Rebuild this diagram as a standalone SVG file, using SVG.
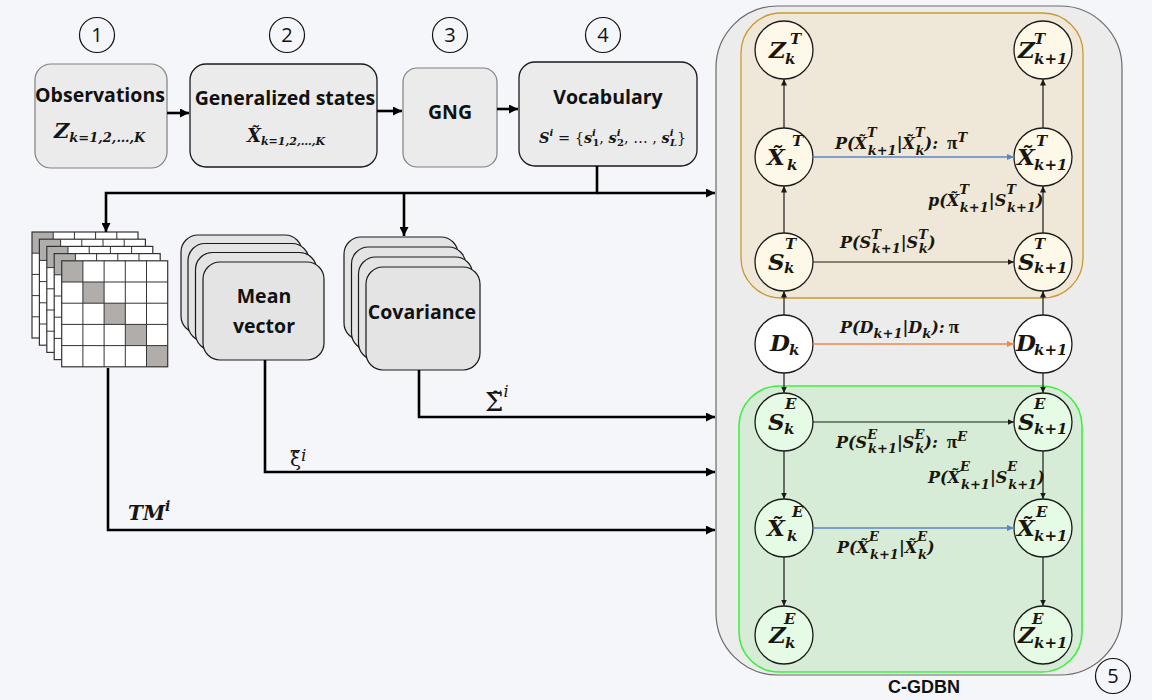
<svg xmlns="http://www.w3.org/2000/svg" xmlns:xlink="http://www.w3.org/1999/xlink" width="1152" height="700" viewBox="0 0 1152 700">
  <style>
    .lbl { font-family: "Open Sans", "Liberation Sans", sans-serif; font-weight: 700; font-size: 19.5px; fill: #111; text-anchor: middle; }
    .num { font-family: "Open Sans", "Liberation Sans", sans-serif; font-size: 20px; fill: #111; text-anchor: middle; }
    .box { fill: #ebebeb; stroke: #1a1a1a; stroke-width: 1.3; }
    .boxl { fill: #ebebeb; stroke: #808080; stroke-width: 1.2; }
    .card { fill: #e4e4e4; stroke: #1a1a1a; stroke-width: 1.2; }
    .ring { fill: none; stroke: #111; stroke-width: 1.2; }
    .math { font-family: "DejaVu Serif", "Liberation Serif", serif; font-weight: 700; font-style: italic; fill: #151515; }
    .up { font-style: normal; }
    .rg { font-weight: 400; font-style: normal; }
    .pi { font-family: "Liberation Serif", serif; font-style: normal; font-weight: 700; font-size: 19px; }
    .nv { font-family: "DejaVu Serif", "Liberation Serif", serif; font-weight: 700; font-style: italic; font-size: 23px; fill: #1a160e; }
    .nv tspan.s { font-size: 15px; }
    .el { font-family: "DejaVu Serif", "Liberation Serif", serif; font-weight: 700; font-style: italic; font-size: 16px; fill: #1a160e; }
    .el tspan.s { font-size: 13px; }
    .sym { font-family: "DejaVu Serif", "Liberation Serif", serif; fill: #151515; }
    .tan { fill: #fdf8e7; stroke: #1a1a1a; stroke-width: 1.3; }
    .wht { fill: #ffffff; stroke: #1a1a1a; stroke-width: 1.3; }
    .grn { fill: #e5fbe5; stroke: #1a1a1a; stroke-width: 1.3; }
    .thick { fill: none; stroke: #000; stroke-width: 2.6; }
    .thin { fill: none; stroke: #1a1a1a; stroke-width: 1.2; }
    .blue { fill: none; stroke: #5a86c6; stroke-width: 1.6; }
    .orng { fill: none; stroke: #f2874a; stroke-width: 1.6; }
  </style>
  <defs>
    <marker id="ah" markerUnits="userSpaceOnUse" markerWidth="10" markerHeight="9" refX="9" refY="4.5" orient="auto">
      <path d="M0,0 L9,4.5 L0,9 z" fill="#000"/>
    </marker>
    <marker id="as" markerUnits="userSpaceOnUse" markerWidth="7" markerHeight="7" refX="6.5" refY="3" orient="auto">
      <path d="M0,0 L6.5,3 L0,6 z" fill="#1a1a1a"/>
    </marker>
    <marker id="ab" markerUnits="userSpaceOnUse" markerWidth="8" markerHeight="7" refX="7.5" refY="3.3" orient="auto">
      <path d="M0,0 L7.5,3.3 L0,6.6 z" fill="#5a86c6"/>
    </marker>
    <marker id="ao" markerUnits="userSpaceOnUse" markerWidth="8" markerHeight="7" refX="7.5" refY="3.3" orient="auto">
      <path d="M0,0 L7.5,3.3 L0,6.6 z" fill="#f2874a"/>
    </marker>
    <!-- one 5x5 transition matrix with shaded diagonal -->
    <g id="mat">
      <rect x="0" y="0" width="106" height="106" fill="#fff"/>
      <rect x="0" y="0" width="21.2" height="21.2" fill="#b1adaa"/>
      <rect x="21.2" y="21.2" width="21.2" height="21.2" fill="#b1adaa"/>
      <rect x="42.4" y="42.4" width="21.2" height="21.2" fill="#b1adaa"/>
      <rect x="63.6" y="63.6" width="21.2" height="21.2" fill="#b1adaa"/>
      <rect x="84.8" y="84.8" width="21.2" height="21.2" fill="#b1adaa"/>
      <path d="M0,21.2H106M0,42.4H106M0,63.6H106M0,84.8H106M21.2,0V106M42.4,0V106M63.6,0V106M84.8,0V106" stroke="#333" stroke-width="1"/>
      <rect x="0" y="0" width="106" height="106" fill="none" stroke="#333" stroke-width="1.2"/>
    </g>
  </defs>

  <rect width="1152" height="700" fill="#f5f6fa"/>

  <!-- step numbers -->
  <g id="steps">
    <circle class="ring" cx="97" cy="35" r="17.5"/><text class="num" x="97" y="42">1</text>
    <circle class="ring" cx="287" cy="35" r="17.5"/><text class="num" x="287" y="42">2</text>
    <circle class="ring" cx="450" cy="35" r="17.5"/><text class="num" x="450" y="42">3</text>
    <circle class="ring" cx="603" cy="35" r="17.5"/><text class="num" x="603" y="42">4</text>
    <circle class="ring" cx="1113" cy="676" r="17.5"/><text class="num" x="1113" y="683">5</text>
  </g>

  <!-- C-GDBN panel -->
  <g id="cgdbn">
    <rect x="716" y="6" width="406" height="669" rx="62" fill="#ececec" stroke="#6a6a6a" stroke-width="1.2"/>
    <rect x="741" y="13" width="342" height="285" rx="40" fill="#efe8d8" stroke="#c99a2e" stroke-width="1.3"/>
    <rect x="739" y="386" width="343" height="286" rx="40" fill="#d6ecd6" stroke="#3ff03f" stroke-width="1.6"/>
    <text x="924" y="693" font-family="Liberation Sans, Arial, sans-serif" font-weight="700" font-size="18" fill="#111" text-anchor="middle">C-GDBN</text>
  </g>

  <!-- pipeline boxes -->
  <g id="observations">
    <rect class="boxl" x="35" y="64" width="132" height="104" rx="16"/>
    <text class="lbl" x="100" y="102">Observations</text>
    <text class="math" x="54" y="138" font-size="21">Z<tspan font-size="13" dy="4">k=1,2,…,K</tspan></text>
  </g>
  <g id="generalized-states">
    <rect class="box" x="190" y="64" width="187" height="103" rx="16"/>
    <text class="lbl" x="285" y="105">Generalized states</text>
    <text class="math" x="247" y="142" font-size="18">X&#x303;<tspan font-size="11" dy="3">k=1,2,…,K</tspan></text>
  </g>
  <g id="gng">
    <rect class="boxl" x="403" y="68" width="94" height="99" rx="14"/>
    <text class="lbl" x="450" y="119">GNG</text>
  </g>
  <g id="vocabulary">
    <rect class="box" x="519" y="62" width="178" height="104" rx="16"/>
    <text class="lbl" x="608" y="104">Vocabulary</text>
    <text class="math" x="539" y="143" font-size="14.5">S<tspan font-size="10" dy="-7">i</tspan><tspan class="rg" dy="7"> = {</tspan>s<tspan font-size="10" dy="-7">i</tspan><tspan font-size="10" dx="-3.5" dy="10" class="up">1</tspan><tspan class="rg" dy="-3">, </tspan>s<tspan font-size="10" dy="-7">i</tspan><tspan font-size="10" dx="-3.5" dy="10" class="up">2</tspan><tspan class="rg" dy="-3">, … , </tspan>s<tspan font-size="10" dy="-7">i</tspan><tspan font-size="10" dx="-3.5" dy="10">L</tspan><tspan class="rg" dy="-3">}</tspan></text>
  </g>

  <!-- per-word model statistics -->
  <g id="transition-matrices">
    <use xlink:href="#mat" x="32" y="232"/>
    <use xlink:href="#mat" x="39.4" y="239.2"/>
    <use xlink:href="#mat" x="46.8" y="246.4"/>
    <use xlink:href="#mat" x="54.2" y="253.6"/>
    <use xlink:href="#mat" x="61.7" y="260.8"/>
  </g>
  <g id="mean-vector">
    <rect class="card" x="181" y="235" width="121" height="98" rx="17"/>
    <rect class="card" x="188" y="243.5" width="121" height="98" rx="17"/>
    <rect class="card" x="195.5" y="252.5" width="121" height="98" rx="17"/>
    <rect class="card" x="203" y="262" width="121" height="98" rx="17"/>
    <text class="lbl" x="264" y="303">Mean</text>
    <text class="lbl" x="264" y="333">vector</text>
  </g>
  <g id="covariance">
    <rect class="card" x="344" y="237" width="114" height="103" rx="17"/>
    <rect class="card" x="351.5" y="247" width="114" height="103" rx="17"/>
    <rect class="card" x="358.5" y="257" width="114" height="103" rx="17"/>
    <rect class="card" x="366" y="267" width="114" height="103" rx="17"/>
    <text class="lbl" x="422" y="319">Covariance</text>
  </g>

  <!-- C-GDBN nodes: continuous (T) level -->
  <g id="node-ZT-k"><circle class="tan" cx="784" cy="50" r="29"/>
    <text class="nv" x="769" y="58">Z<tspan class="s" x="790" y="44">T</tspan><tspan class="s" x="785" y="64">k</tspan></text></g>
  <g id="node-ZT-k1"><circle class="tan" cx="1043" cy="50" r="29"/>
    <text class="nv" x="1018" y="58">Z<tspan class="s" x="1034" y="44">T</tspan><tspan class="s" x="1034" y="64">k+1</tspan></text></g>
  <g id="node-XT-k"><circle class="tan" cx="784" cy="157" r="29"/>
    <text class="nv" x="767" y="165">X&#x303;<tspan class="s" x="792" y="146">T</tspan><tspan class="s" x="787" y="170">k</tspan></text></g>
  <g id="node-XT-k1"><circle class="tan" cx="1043" cy="157" r="29"/>
    <text class="nv" x="1017" y="165">X&#x303;<tspan class="s" x="1036" y="146">T</tspan><tspan class="s" x="1034" y="170">k+1</tspan></text></g>
  <g id="node-ST-k"><circle class="tan" cx="784" cy="262" r="29"/>
    <text class="nv" x="768" y="270">S<tspan class="s" x="785" y="249">T</tspan><tspan class="s" x="784" y="273">k</tspan></text></g>
  <g id="node-ST-k1"><circle class="tan" cx="1043" cy="262" r="29"/>
    <text class="nv" x="1018" y="270">S<tspan class="s" x="1034" y="249">T</tspan><tspan class="s" x="1034" y="273">k+1</tspan></text></g>

  <!-- C-GDBN nodes: discrete super-states -->
  <g id="node-D-k"><circle class="wht" cx="784" cy="344" r="29"/>
    <text class="nv" x="770" y="351">D<tspan class="s" x="789" y="355">k</tspan></text></g>
  <g id="node-D-k1"><circle class="wht" cx="1043" cy="344" r="29"/>
    <text class="nv" x="1016" y="351">D<tspan class="s" x="1034" y="355">k+1</tspan></text></g>

  <!-- C-GDBN nodes: environment (E) level -->
  <g id="node-SE-k"><circle class="grn" cx="784" cy="422" r="29"/>
    <text class="nv" x="768" y="430" fill="#132813">S<tspan class="s" x="785" y="409">E</tspan><tspan class="s" x="784" y="434">k</tspan></text></g>
  <g id="node-SE-k1"><circle class="grn" cx="1043" cy="422" r="29"/>
    <text class="nv" x="1018" y="430" fill="#132813">S<tspan class="s" x="1034" y="409">E</tspan><tspan class="s" x="1034" y="434">k+1</tspan></text></g>
  <g id="node-XE-k"><circle class="grn" cx="784" cy="528" r="29"/>
    <text class="nv" x="767" y="536" fill="#132813">X&#x303;<tspan class="s" x="792" y="517">E</tspan><tspan class="s" x="787" y="541">k</tspan></text></g>
  <g id="node-XE-k1"><circle class="grn" cx="1043" cy="528" r="29"/>
    <text class="nv" x="1017" y="536" fill="#132813">X&#x303;<tspan class="s" x="1036" y="517">E</tspan><tspan class="s" x="1034" y="541">k+1</tspan></text></g>
  <g id="node-ZE-k"><circle class="grn" cx="784" cy="635" r="29"/>
    <text class="nv" x="769" y="643" fill="#132813">Z<tspan class="s" x="784" y="624">E</tspan><tspan class="s" x="785" y="648">k</tspan></text></g>
  <g id="node-ZE-k1"><circle class="grn" cx="1043" cy="635" r="29"/>
    <text class="nv" x="1018" y="643" fill="#132813">Z<tspan class="s" x="1032" y="624">E</tspan><tspan class="s" x="1034" y="648">k+1</tspan></text></g>

  <!-- connectors -->
  <g id="connectors">
    <path class="thick" d="M167,113H189" marker-end="url(#ah)"/>
    <path class="thick" d="M377,111H402" marker-end="url(#ah)"/>
    <path class="thick" d="M497,109H518" marker-end="url(#ah)"/>
    <path class="thick" d="M597,166V193H106V232" marker-end="url(#ah)"/>
    <path class="thick" d="M597,193H715" marker-end="url(#ah)"/>
    <path class="thick" d="M404,193V236" marker-end="url(#ah)"/>
    <path class="thick" d="M419,370V417H715" marker-end="url(#ah)"/>
    <path class="thick" d="M265,360V472H715" marker-end="url(#ah)"/>
    <path class="thick" d="M108,368V530H715" marker-end="url(#ah)"/>

    <path class="thin" d="M784,128V79" marker-end="url(#as)"/>
    <path class="thin" d="M784,233V186" marker-end="url(#as)"/>
    <path class="thin" d="M784,315V291" marker-end="url(#as)"/>
    <path class="thin" d="M784,373V393" marker-end="url(#as)"/>
    <path class="thin" d="M784,451V499" marker-end="url(#as)"/>
    <path class="thin" d="M784,557V606" marker-end="url(#as)"/>
    <path class="thin" d="M1043,128V79" marker-end="url(#as)"/>
    <path class="thin" d="M1043,233V186" marker-end="url(#as)"/>
    <path class="thin" d="M1043,315V291" marker-end="url(#as)"/>
    <path class="thin" d="M1043,373V393" marker-end="url(#as)"/>
    <path class="thin" d="M1043,451V499" marker-end="url(#as)"/>
    <path class="thin" d="M1043,557V606" marker-end="url(#as)"/>

    <path class="blue" d="M813,157H1014" marker-end="url(#ab)"/>
    <path class="thin" d="M813,262H1014" marker-end="url(#as)"/>
    <path class="orng" d="M813,344H1014" marker-end="url(#ao)"/>
    <path class="thin" d="M813,422H1014" marker-end="url(#as)"/>
    <path class="blue" d="M813,528H1014" marker-end="url(#ab)"/>
  </g>

  <!-- connector labels -->
  <g id="connector-labels">
    <text class="sym" x="485" y="411" font-size="26">Σ&#x303;<tspan font-style="italic" font-size="16" dy="-14">i</tspan></text>
    <text class="sym" x="290" y="466" font-size="20">ξ&#x303;<tspan font-style="italic" font-size="17" dy="-5">i</tspan></text>
    <text class="math" x="128" y="520" font-size="20">TM<tspan font-size="14" dy="-9">i</tspan></text>

    <text class="el" x="835" y="149">P(X&#x303;<tspan class="s" dy="-12">T</tspan><tspan class="s" dx="-9" dy="18">k+1</tspan><tspan dy="-6">|X&#x303;</tspan><tspan class="s" dy="-12">T</tspan><tspan class="s" dx="-9" dy="18">k</tspan><tspan dy="-6">):</tspan><tspan class="pi" dx="9">π</tspan><tspan class="s" dy="-7">T</tspan></text>
    <text class="el" x="928" y="206">p(X&#x303;<tspan class="s" dy="-12">T</tspan><tspan class="s" dx="-9" dy="18">k+1</tspan><tspan dy="-6">|S</tspan><tspan class="s" dy="-12">T</tspan><tspan class="s" dx="-9" dy="18">k+1</tspan><tspan dy="-6">)</tspan></text>
    <text class="el" x="840" y="248">P(S<tspan class="s" dy="-9">T</tspan><tspan class="s" dx="-9" dy="14">k+1</tspan><tspan dy="-5">|S</tspan><tspan class="s" dy="-9">T</tspan><tspan class="s" dx="-9" dy="14">k</tspan><tspan dy="-5">)</tspan></text>
    <text class="el" x="840" y="333">P(D<tspan class="s" dy="5">k+1</tspan><tspan dy="-5">|D</tspan><tspan class="s" dy="5">k</tspan><tspan dy="-5">):</tspan><tspan class="pi" dx="4">π</tspan></text>
    <text class="el" x="836" y="448" fill="#132813">P(S<tspan class="s" dy="-9">E</tspan><tspan class="s" dx="-9" dy="14">k+1</tspan><tspan dy="-5">|S</tspan><tspan class="s" dy="-9">E</tspan><tspan class="s" dx="-9" dy="14">k</tspan><tspan dy="-5">):</tspan><tspan class="pi" dx="9">π</tspan><tspan class="s" dy="-7">E</tspan></text>
    <text class="el" x="928" y="483" fill="#132813">P(X&#x303;<tspan class="s" dy="-12">E</tspan><tspan class="s" dx="-9" dy="18">k+1</tspan><tspan dy="-6">|S</tspan><tspan class="s" dy="-12">E</tspan><tspan class="s" dx="-9" dy="18">k+1</tspan><tspan dy="-6">)</tspan></text>
    <text class="el" x="837" y="553" fill="#132813">P(X&#x303;<tspan class="s" dy="-12">E</tspan><tspan class="s" dx="-9" dy="18">k+1</tspan><tspan dy="-6">|X&#x303;</tspan><tspan class="s" dy="-12">E</tspan><tspan class="s" dx="-9" dy="18">k</tspan><tspan dy="-6">)</tspan></text>
  </g>
</svg>
